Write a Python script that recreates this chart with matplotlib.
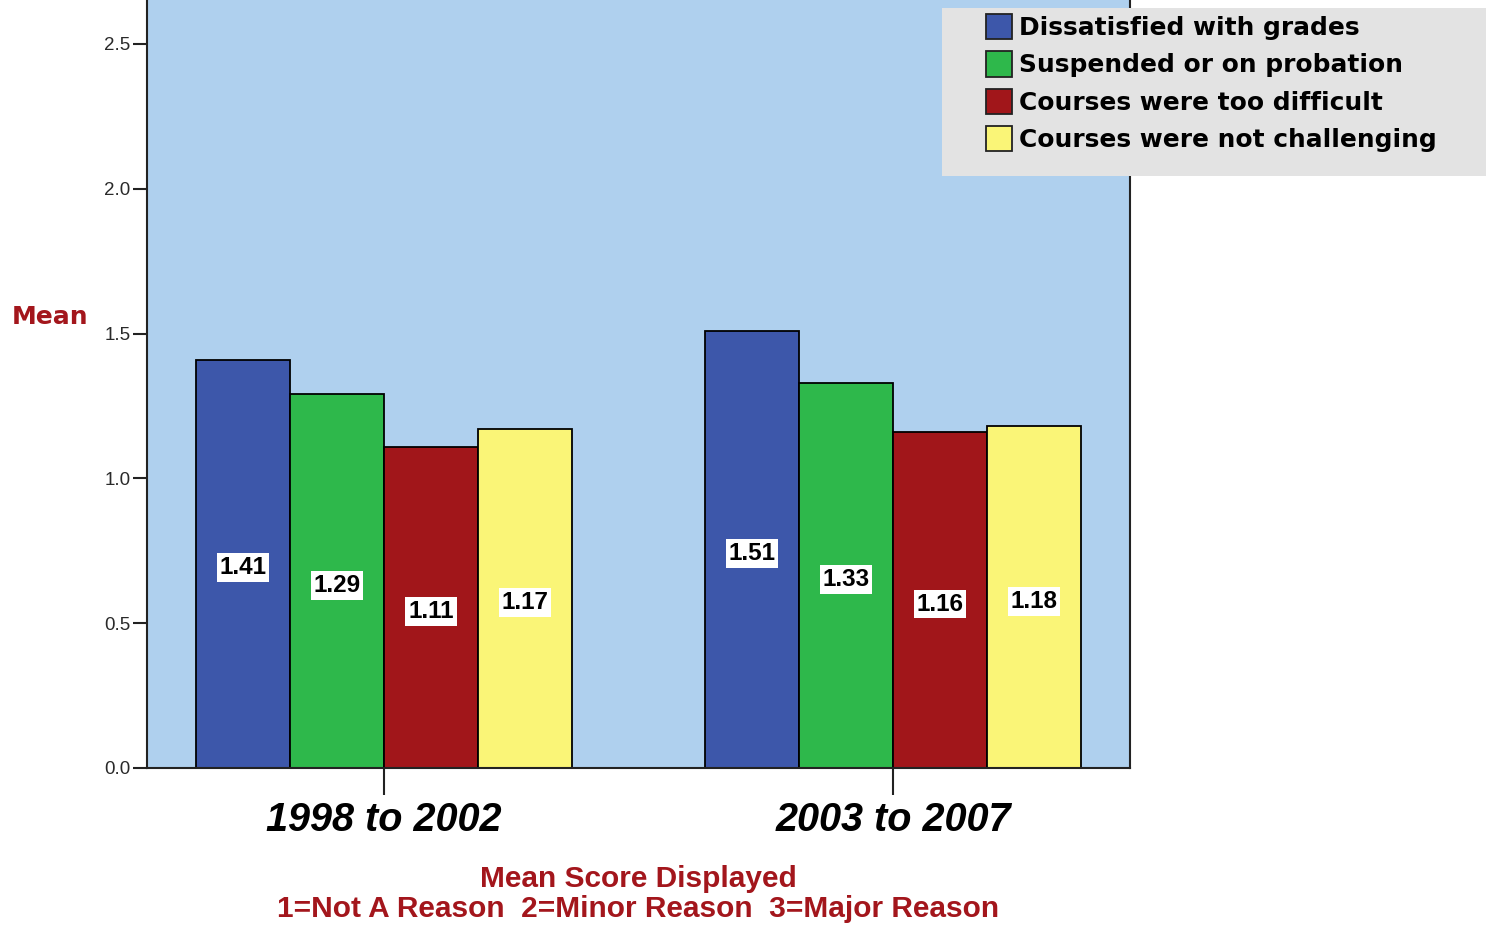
import matplotlib
matplotlib.use("Agg")
import matplotlib.pyplot as plt
import numpy as np
from matplotlib.patches import Rectangle, Patch

# Data
periods = ["1998 to 2002", "2003 to 2007"]
reasons = [
    "Dissatisfied with grades",
    "Suspended or on probation",
    "Courses were too difficult",
    "Courses were not challenging",
]
means = {
    "Dissatisfied with grades": [1.41, 1.51],
    "Suspended or on probation": [1.29, 1.33],
    "Courses were too difficult": [1.11, 1.16],
    "Courses were not challenging": [1.17, 1.18],
}
y_ticks = [0.0, 0.5, 1.0, 1.5, 2.0, 2.5]

colors = ["#3d57aa", "#2eb84b", "#a1161a", "#faf577"]
bg_color = "#afd0ee"
note_red = "#a3161c"

W, H = 1486, 925
fig = plt.figure(figsize=(W / 100, H / 100), dpi=100)
ax = fig.add_axes([147 / W, 1 - 768 / H, (1130 - 147) / W, 768 / H])
ax.set_facecolor(bg_color)

x = np.arange(len(periods))
bar_w = 94 / 509
n = len(reasons)
for i, (name, col) in enumerate(zip(reasons, colors)):
    offs = (i - (n - 1) / 2) * bar_w
    vals = means[name]
    bars = ax.bar(x + offs, vals, width=bar_w, color=col, edgecolor="black",
                  linewidth=1.3, zorder=2, label=name)
    for b, v in zip(bars, vals):
        ax.annotate(f"{v:.2f}", xy=(b.get_x() + b.get_width() / 2, v / 2),
                    xytext=(0, -4), textcoords="offset pixels",
                    ha="center", va="center", fontsize=17.5,
                    fontweight="bold", family="Liberation Sans", color="black",
                    bbox=dict(boxstyle="square,pad=0.12", fc="white", ec="none"),
                    zorder=4)

ax.set_xlim(-0.4656, 1.4656)
ax.set_ylim(0, 768 / 289.6)
ax.set_yticks(y_ticks)
ax.set_yticklabels([f"{t:.1f}" for t in y_ticks], fontsize=13.5,
                   family="Liberation Sans", color="#2a2a2a")
ax.set_xticks(x)
ax.set_xticklabels(periods, fontsize=28.5, fontweight="bold", style="italic",
                   family="Liberation Sans", color="black")
ax.tick_params(axis="y", direction="out", length=10, width=1.5, pad=2,
               color="#222222")
ax.tick_params(axis="x", direction="out", length=19.5, width=1.5, pad=4,
               color="#222222")
for side in ["left", "bottom", "right"]:
    ax.spines[side].set_linewidth(1.5)
    ax.spines[side].set_color("#222222")
ax.spines["top"].set_visible(False)

fig.text(50 / W, 1 - 317 / H, "Mean", ha="center", va="center",
         fontsize=18, fontweight="bold", color=note_red, family="DejaVu Sans")

fig.text(638 / W, 1 - 879 / H, "Mean Score Displayed", ha="center",
         va="center", fontsize=21.5, fontweight="bold", color=note_red,
         family="Liberation Sans")
fig.text(638 / W, 1 - 909 / H,
         "1=Not A Reason  2=Minor Reason  3=Major Reason", ha="center",
         va="center", fontsize=21.5, fontweight="bold", color=note_red,
         family="Liberation Sans")

# Legend panel
fig.patches.append(Rectangle((942 / W, 1 - 176 / H), (W - 942) / W,
                             (176 - 8) / H, transform=fig.transFigure,
                             facecolor="#e3e3e3", edgecolor="none", zorder=3))
handles = [Patch(facecolor=c, edgecolor="#222222", linewidth=1.3) for c in colors]
leg = fig.legend(handles, reasons, loc="upper left",
                 bbox_to_anchor=(986 / W, 1 - 14 / H), frameon=False,
                 borderpad=0, borderaxespad=0, handlelength=1.05,
                 handleheight=1.2, handletextpad=0.28, labelspacing=0.45,
                 prop=dict(family="DejaVu Sans", weight="bold", size=17.9))
leg.set_zorder(5)

fig.savefig("out.png", dpi=100)
